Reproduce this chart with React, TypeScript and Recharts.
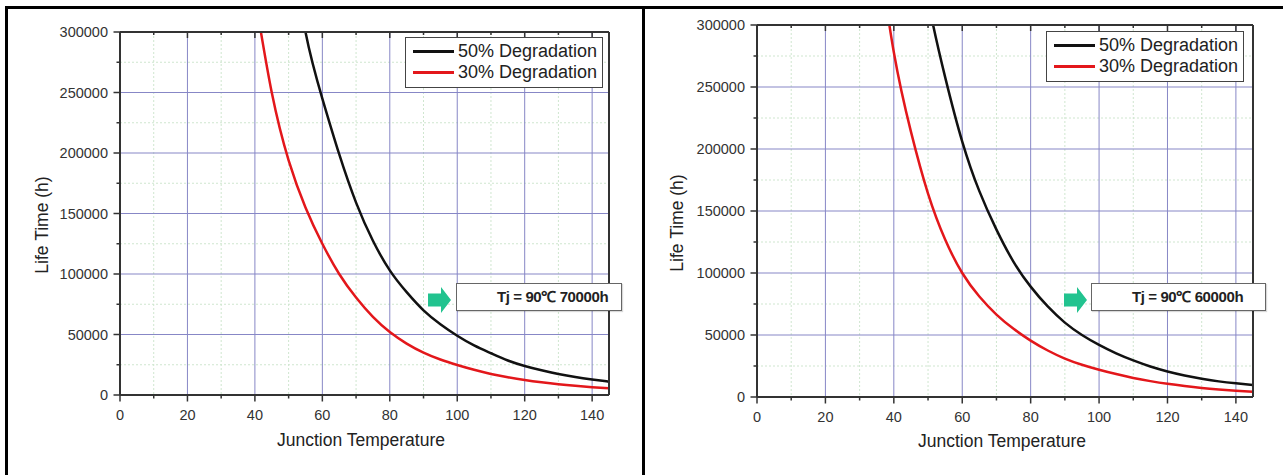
import { LineChart, Line, XAxis, YAxis, CartesianGrid, Legend } from 'recharts'

// temperature grid (°C) and life time readings (h)
const temps = [35, 40, 45, 50, 55, 60, 65, 70, 75, 80, 85, 90, 95, 100, 105, 110, 115, 120, 125, 130, 135, 140, 145]

const left50 = [null, null, null, 385000, 300000, 245000, 199000, 159000, 127500, 103000, 85000, 70000, 58500, 49000, 41000, 34500, 28500, 24000, 20400, 17300, 14800, 12800, 11000]
const left30 = [null, 330000, 250000, 194000, 155000, 125000, 100000, 80500, 64500, 52000, 42500, 35000, 29300, 24800, 20800, 17400, 14700, 12400, 10500, 8900, 7600, 6500, 5500]
const right50 = [null, null, 400000, 320000, 258000, 206000, 166000, 135000, 109000, 89000, 73000, 60000, 50000, 42000, 35200, 29500, 24600, 20600, 17400, 14800, 12600, 11000, 9700]
const right30 = [370000, 278000, 214000, 164000, 127000, 100000, 81000, 66500, 55000, 45500, 37500, 31000, 26000, 22000, 18500, 15400, 12800, 10600, 8800, 7300, 6100, 5100, 4300]

const xTicks = [0, 10, 20, 30, 40, 50, 60, 70, 80, 90, 100, 110, 120, 130, 140]
const yTicks = [0, 25000, 50000, 75000, 100000, 125000, 150000, 175000, 200000, 225000, 250000, 275000, 300000]
const xMajor = [20, 40, 60, 80, 100, 120, 140]
const xMinor = [10, 30, 50, 70, 90, 110, 130]
const yMajor = [50000, 100000, 150000, 200000, 250000]
const yMinor = [25000, 75000, 125000, 175000, 225000, 275000]

const seriesNames = ['50% Degradation', '30% Degradation']
const notes = ['Tj = 90℃ 70000h', 'Tj = 90℃ 60000h']

const FONT = '"Liberation Sans", Arial, sans-serif'
const AXIS = '#333'

function BottomTick({ x, y, payload }: any) {
  const major = payload.value % 20 === 0
  return (
    <g>
      <line x1={x} x2={x} y1={y} y2={y + (major ? 6.5 : 3.5)} stroke={AXIS} strokeWidth={1.5} />
      {major && (
        <text x={x} y={y + 20} textAnchor="middle" dominantBaseline="central" fontSize={14.5} fill="#333" fontFamily={FONT}>
          {payload.value}
        </text>
      )}
    </g>
  )
}

function TopTick({ x, y, payload }: any) {
  const major = payload.value % 20 === 0
  return <line x1={x} x2={x} y1={y} y2={y + (major ? 6 : 3)} stroke={AXIS} strokeWidth={1.5} />
}

function LeftTick({ x, y, payload }: any) {
  const major = payload.value % 50000 === 0
  return (
    <g>
      <line x1={x - (major ? 6.5 : 3.5)} x2={x} y1={y} y2={y} stroke={AXIS} strokeWidth={1.5} />
      {major && (
        <text x={x - 12} y={y} textAnchor="end" dominantBaseline="central" fontSize={14.5} fill="#333" fontFamily={FONT}>
          {payload.value}
        </text>
      )}
    </g>
  )
}

function RightTick({ x, y }: any) {
  return <line x1={x - 3} x2={x + 3.5} y1={y} y2={y} stroke={AXIS} strokeWidth={1.5} />
}

function LegendBox({ payload }: any) {
  const items = [...(payload || [])].sort(
    (a: any, b: any) => seriesNames.indexOf(a.value) - seriesNames.indexOf(b.value)
  )
  return (
    <div
      style={{
        boxSizing: 'border-box',
        width: 198,
        height: 51,
        border: '1.5px solid #444',
        background: '#fff',
        padding: '3px 0 0 7px',
        fontFamily: FONT,
        fontSize: 18,
        color: '#222',
      }}
    >
      {items.map((entry: any) => (
        <div key={entry.value} style={{ display: 'flex', alignItems: 'center', height: 21 }}>
          <span style={{ display: 'inline-block', width: 41, height: 2.7, background: entry.color, marginRight: 4 }} />
          <span style={{ lineHeight: '21px', whiteSpace: 'nowrap' }}>{entry.value}</span>
        </div>
      ))}
    </div>
  )
}

interface PanelProps {
  d50: (number | null)[]
  d30: (number | null)[]
  width: number
  margin: { top: number; right: number; bottom: number; left: number }
  legendAt: { left: number; top: number }
}

function Panel({ d50, d30, width, margin, legendAt }: PanelProps) {
  const data = temps.map((t, i) => ({ t, d50: d50[i], d30: d30[i] }))
  return (
    <LineChart width={width} height={475} data={data} margin={margin}>
      <CartesianGrid
        xAxisId="b"
        yAxisId="l"
        verticalValues={xMinor}
        horizontalValues={yMinor}
        stroke="#cfe6cf"
        strokeDasharray="2 2"
        strokeWidth={1}
      />
      <CartesianGrid
        xAxisId="b"
        yAxisId="l"
        verticalValues={xMajor}
        horizontalValues={yMajor}
        stroke="#8787c6"
        strokeWidth={1}
      />
      <XAxis
        xAxisId="b"
        dataKey="t"
        type="number"
        domain={[0, 145]}
        ticks={xTicks}
        interval={0}
        height={30}
        tickSize={0}
        tickMargin={0}
        tickLine={false}
        axisLine={{ stroke: AXIS, strokeWidth: 2 }}
        tick={(p: any) => <BottomTick {...p} />}
      />
      <XAxis
        xAxisId="t"
        orientation="top"
        dataKey="t"
        type="number"
        domain={[0, 145]}
        ticks={xTicks}
        interval={0}
        height={1}
        tickSize={0}
        tickMargin={0}
        tickLine={false}
        axisLine={{ stroke: AXIS, strokeWidth: 2 }}
        tick={(p: any) => <TopTick {...p} />}
      />
      <YAxis
        yAxisId="l"
        type="number"
        domain={[0, 300000]}
        ticks={yTicks}
        interval={0}
        allowDataOverflow
        width={70}
        tickSize={0}
        tickMargin={0}
        tickLine={false}
        axisLine={{ stroke: AXIS, strokeWidth: 2 }}
        tick={(p: any) => <LeftTick {...p} />}
      />
      <YAxis
        yAxisId="r"
        orientation="right"
        type="number"
        domain={[0, 300000]}
        ticks={yTicks}
        interval={0}
        width={1}
        tickSize={0}
        tickMargin={0}
        tickLine={false}
        axisLine={{ stroke: AXIS, strokeWidth: 2 }}
        tick={(p: any) => <RightTick {...p} />}
      />
      <Legend
        layout="vertical"
        align="center"
        verticalAlign="middle"
        wrapperStyle={{ left: legendAt.left, top: legendAt.top, width: 198, height: 51 }}
        content={(p: any) => <LegendBox {...p} />}
      />
      <Line
        xAxisId="b"
        yAxisId="l"
        dataKey="d50"
        name={seriesNames[0]}
        type="natural"
        stroke="#111"
        strokeWidth={2.5}
        dot={false}
        isAnimationActive={false}
      />
      <Line
        xAxisId="b"
        yAxisId="l"
        dataKey="d30"
        name={seriesNames[1]}
        type="natural"
        stroke="#e3171b"
        strokeWidth={2.5}
        dot={false}
        isAnimationActive={false}
      />
    </LineChart>
  )
}

function Note({ left, arrowLeft, width, text }: { left: number; arrowLeft: number; width: number; text: string }) {
  return (
    <>
      <svg style={{ position: 'absolute', left: arrowLeft, top: 287 }} width={23} height={26}>
        <polygon points="0,6.5 13,6.5 13,0 23,13 13,26 13,19.5 0,19.5" fill="#22c38f" />
      </svg>
      <div
        style={{
          position: 'absolute',
          left,
          top: 283,
          width,
          height: 28,
          boxSizing: 'border-box',
          border: '1.5px solid #666',
          background: '#fff',
          boxShadow: '1px 1px 1px rgba(0,0,0,0.15)',
          paddingLeft: 40,
          fontFamily: FONT,
          fontWeight: 'bold',
          fontSize: 15,
          letterSpacing: -0.4,
          lineHeight: '25px',
          color: '#222',
          whiteSpace: 'nowrap',
        }}
      >
        {text}
      </div>
    </>
  )
}

const yLabelStyle = (cx: number, cy: number): React.CSSProperties => ({
  position: 'absolute',
  left: cx,
  top: cy,
  transform: 'translate(-50%, -50%) rotate(-90deg)',
  fontFamily: FONT,
  fontSize: 17.5,
  color: '#222',
  whiteSpace: 'nowrap',
})

const xLabelStyle = (cx: number, top: number): React.CSSProperties => ({
  position: 'absolute',
  left: cx,
  top,
  transform: 'translateX(-50%)',
  fontFamily: FONT,
  fontSize: 17.5,
  color: '#222',
  whiteSpace: 'nowrap',
})

export default function App() {
  return (
    <div style={{ position: 'absolute', left: 0, top: 0, width: 1283, height: 475, background: '#fff', overflow: 'hidden' }}>
      {/* table frame */}
      <div style={{ position: 'absolute', left: 5, top: 6, width: 1278, height: 2.5, background: '#000' }} />
      <div style={{ position: 'absolute', left: 5, top: 6, width: 2.5, height: 469, background: '#000' }} />
      <div style={{ position: 'absolute', left: 642, top: 6, width: 3, height: 469, background: '#000' }} />

      <div style={{ position: 'absolute', left: 0, top: 0 }}>
        <Panel d50={left50} d30={left30} width={640} margin={{ top: 31, right: 30, bottom: 50, left: 50 }} legendAt={{ left: 405, top: 37 }} />
      </div>
      <div style={{ position: 'absolute', left: 645, top: 0 }}>
        <Panel d50={right50} d30={right30} width={638} margin={{ top: 24, right: 29, bottom: 48, left: 42 }} legendAt={{ left: 401, top: 31 }} />
      </div>

      <div style={yLabelStyle(42, 225)}>Life Time (h)</div>
      <div style={yLabelStyle(677, 223)}>Life Time (h)</div>
      <div style={xLabelStyle(361, 430)}>Junction Temperature</div>
      <div style={xLabelStyle(1002, 431)}>Junction Temperature</div>

      <Note left={456} arrowLeft={428} width={166} text={notes[0]} />
      <Note left={1091} arrowLeft={1064} width={175} text={notes[1]} />
    </div>
  )
}
